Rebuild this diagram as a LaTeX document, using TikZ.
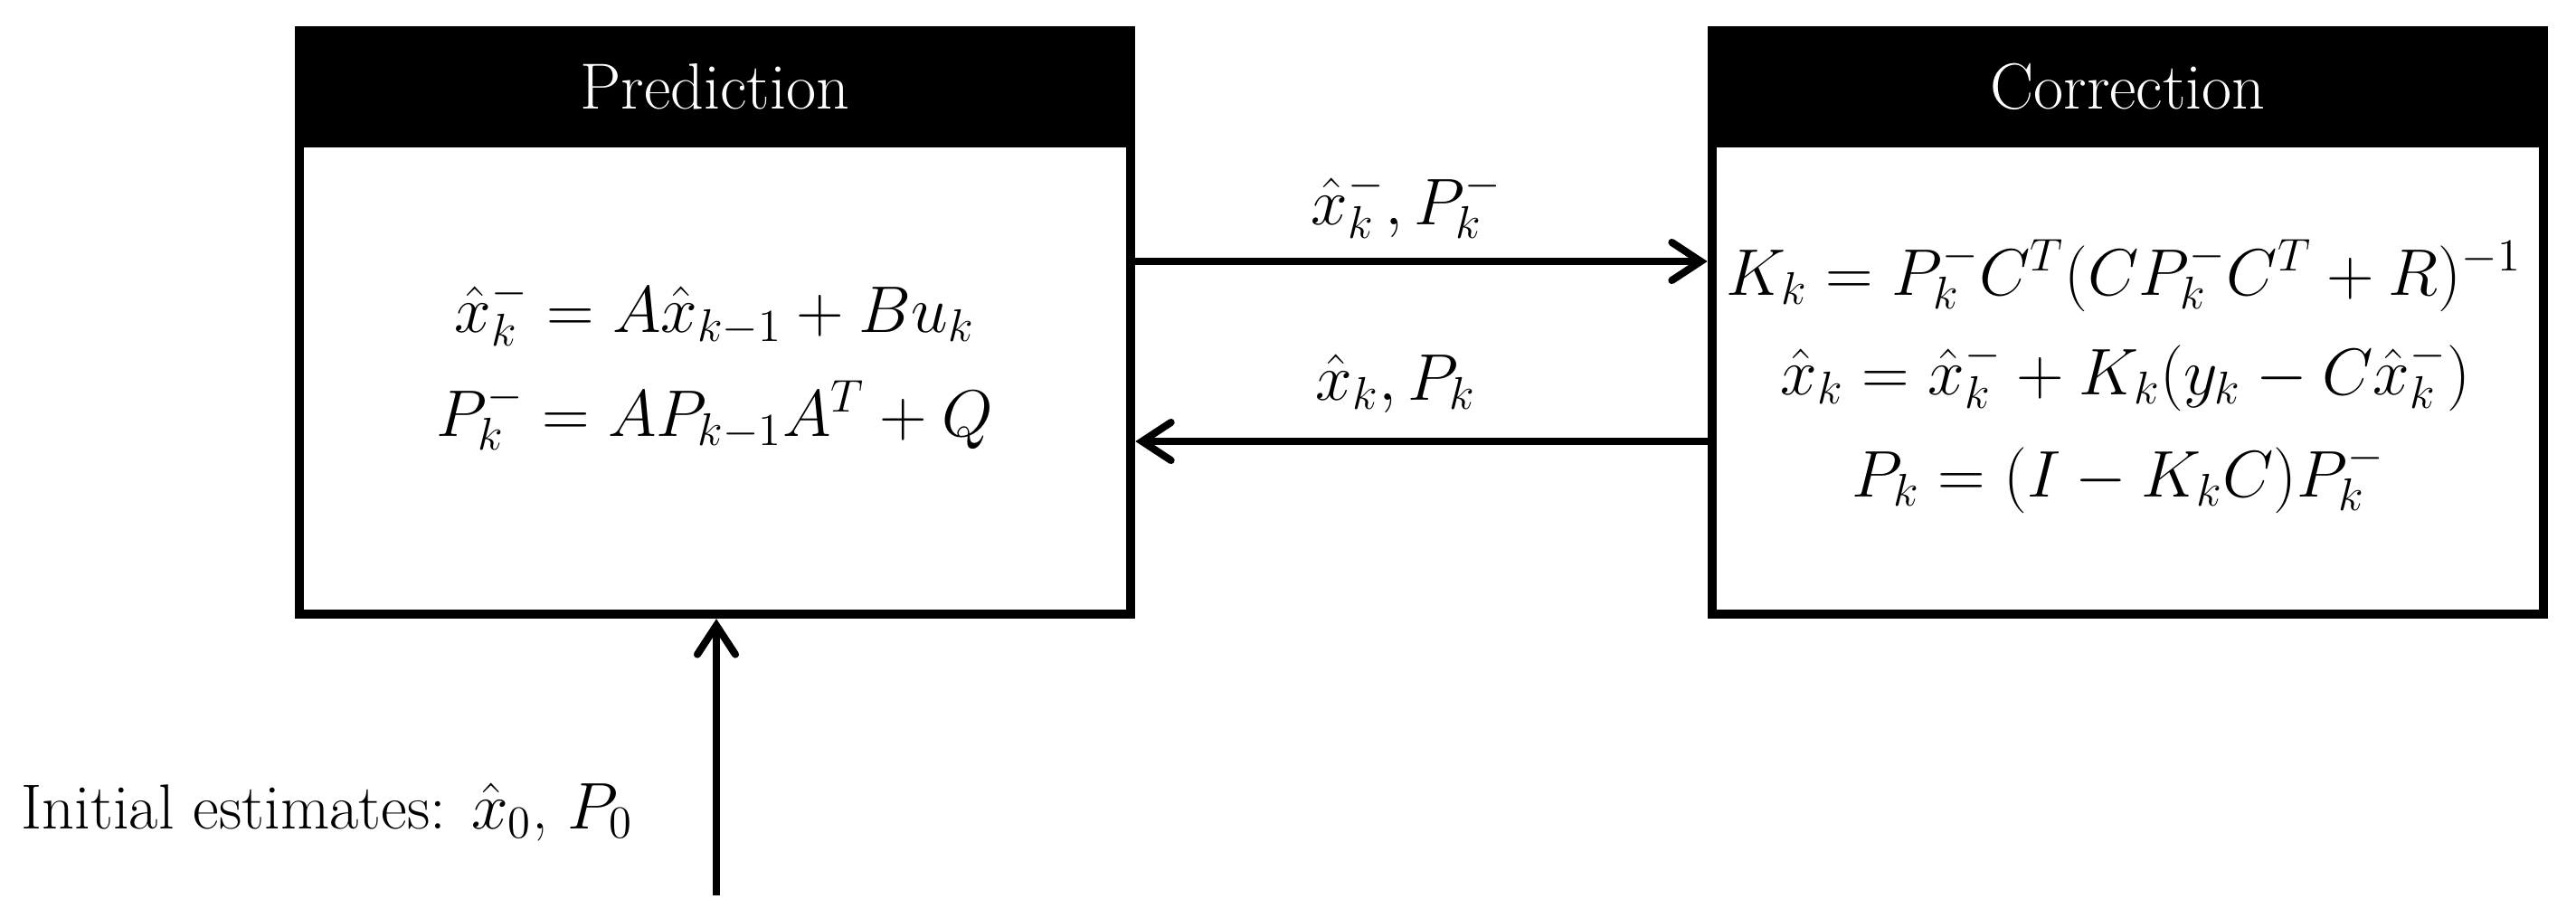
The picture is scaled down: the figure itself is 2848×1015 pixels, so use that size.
\documentclass[tikz,border=0pt]{standalone}
\usetikzlibrary{arrows.meta}
\begin{document}
\begin{tikzpicture}[x=0.01cm,y=-0.01cm,
  box/.style={draw=black, line width=2.85pt, fill=white, minimum width=9.19cm, minimum height=6.45cm, inner sep=0pt},
  hdr/.style={fill=black, text=white, inner sep=0pt, minimum width=9.29cm, minimum height=1.33cm, font=\fontsize{20.5}{24}\selectfont},
  eq/.style={inner sep=0pt, anchor=base, font=\fontsize{20}{24}\selectfont},
  lbl/.style={inner sep=0pt, anchor=base, font=\fontsize{20}{24}\selectfont},
  arr/.style={line width=2.3pt, -{Straight Barb[length=0.32cm, width=0.42cm, line cap=round]}}
]
\useasboundingbox (0,0) rectangle (2848,1015);
\node[box] (pred) at (790.5,356.5) {};
\node[box] (corr) at (2352.5,356.5) {};
\node[hdr, anchor=north] (predh) at (pred.north) {Prediction};
\node[hdr, anchor=north] (corrh) at (corr.north) {Correction};

\node[eq] (p1) at (790,367) {$\hat{x}_k^- = A\hat{x}_{k-1} + Bu_k$};
\node[eq] (p2) at (790,482) {$P_k^- = AP_{k-1}A^T + Q$};
\node[eq, font=\fontsize{19.3}{24}\selectfont] (c1) at (2348,326) {$K_k = P_k^-C^T(CP_k^-C^T+R)^{-1}$};
\node[eq] (c2) at (2350,436) {$\hat{x}_k = \hat{x}_k^- + K_k(y_k - C\hat{x}_k^-)$};
\node[eq] (c3) at (2342,549) {$P_k = (I - K_kC)P_k^-$};

\draw[arr] (pred.east |- 0,289) -- (corr.west |- 0,289);
\draw[arr] (corr.west |- 0,488) -- (pred.east |- 0,488);
\node[lbl] (l1) at (1555,248) {$\hat{x}_k^-, P_k^-$};
\node[lbl] (l2) at (1543,442) {$\hat{x}_k, P_k$};

\coordinate (init) at (792,990);
\draw[arr] (init) -- (init |- pred.south);
\node[lbl, anchor=base west] (ini) at (23,916) {Initial estimates: $\hat{x}_0$, $P_0$};
\end{tikzpicture}
\end{document}
